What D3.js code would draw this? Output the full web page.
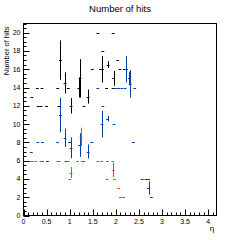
<!DOCTYPE html>
<html>
<head>
<meta charset="utf-8">
<script src="https://cdn.jsdelivr.net/npm/d3@7"></script>
<style>
  body { margin: 0; background: #fff; }
  text { font-family: "Liberation Sans", Arial, sans-serif; }
</style>
</head>
<body>
<svg id="chart" width="240" height="240"></svg>
<script>
// each point: [eta, mean hits, error]
var blackPts = [
  [0.18, 13, 0], [0.30, 14, 0], [0.40, 14, 0], [0.74, 14, 0], [0.97, 14, 0],
  [0.32, 12, 0], [0.38, 12, 0], [0.50, 12, 0], [0.77, 12, 0], [1.31, 12, 0],
  [0.80, 17, 2.15], [0.90, 14.5, 1.15], [1.03, 12, 0.85], [1.20, 14, 1.1],
  [1.225, 15, 2.1], [1.40, 13, 0.77], [1.49, 16, 0], [1.61, 20, 0], [1.94, 20, 0],
  [1.72, 18, 0], [1.71, 16, 1.45], [1.67, 16, 0], [1.83, 16.5, 0.37], [2.04, 17, 0],
  [1.95, 15, 0.8], [2.09, 16, 0], [2.18, 16, 0], [1.80, 14, 0], [1.94, 14, 0]
];
var bluePts = [
  [1.61, 14, 0], [2.00, 14, 0], [2.06, 14, 0], [2.13, 14, 0], [2.20, 14, 0], [2.41, 14, 0],
  [2.23, 16, 1.46], [2.29, 15, 0.73], [2.31, 14.4, 1.5],
  [0.80, 11, 1.9], [0.90, 8.5, 1.0], [1.03, 7.4, 1.14], [1.215, 7.7, 1.28], [1.40, 7, 0.77],
  [0.31, 8, 0], [0.41, 8, 0], [0.74, 8, 0], [1.00, 8, 0], [1.48, 8, 0], [2.38, 8, 0],
  [0.17, 7, 0],
  [0.04, 6, 0], [0.12, 6, 0], [0.41, 6, 0], [0.52, 6, 0], [0.75, 6, 0], [0.92, 6, 0], [1.30, 6, 0],
  [1.70, 10, 1.45], [1.72, 12, 0], [1.82, 10.6, 0.3], [1.96, 10, 0],
  [2.57, 4, 0], [2.65, 4, 0], [2.71, 4, 0], [2.71, 3, 0.73], [2.77, 2, 0]
];
var redPts = [
  [0.19, 6, 0], [0.27, 6, 0], [0.38, 6, 0], [0.77, 6, 0], [0.97, 6, 0],
  [1.17, 6, 0], [1.27, 6, 0], [1.61, 6, 0], [1.69, 6, 0], [1.82, 6, 0], [1.93, 6, 0],
  [1.03, 4.7, 0.6], [1.00, 4, 0], [1.245, 8.6, 1.0], [1.94, 5, 0.78],
  [1.81, 4, 0], [1.97, 4, 0], [2.06, 3, 0], [2.10, 2, 0], [2.17, 2, 0]
];
var series = [
  { pts: blackPts, color: '#000000' },
  { pts: bluePts, color: '#0040a0' },
  { pts: redPts, color: '#ff3c14' }
];
var xTicks = [0, 0.5, 1, 1.5, 2, 2.5, 3, 3.5, 4];
var yTicks = [0, 2, 4, 6, 8, 10, 12, 14, 16, 18, 20];
var binHalf = 0.03;

var svg = d3.select('#chart');
var frameL = 23.5, frameR = 216.5, frameT = 23.5, frameB = 215.5;

var x = d3.scaleLinear().domain([0, 4.18]).range([frameL, frameR]);
var y = d3.scaleLinear().domain([0, 21]).range([frameB, frameT]);

// title
svg.append('text').attr('x', 120).attr('y', 11.5).attr('text-anchor', 'middle')
  .attr('font-size', 9.5).text('Number of hits');

// data marks
series.forEach(function (s) {
  var g = svg.append('g').attr('stroke', s.color).attr('stroke-width', 1);
  s.pts.forEach(function (d) {
    g.append('line')
      .attr('x1', x(d[0] - binHalf)).attr('x2', x(d[0] + binHalf))
      .attr('y1', Math.round(y(d[1])) + 0.5).attr('y2', Math.round(y(d[1])) + 0.5);
    if (d[2] > 0) {
      g.append('line')
        .attr('x1', Math.round(x(d[0])) + 0.5).attr('x2', Math.round(x(d[0])) + 0.5)
        .attr('y1', y(d[1] - d[2])).attr('y2', y(d[1] + d[2]));
    }
  });
});

// frame
svg.append('rect').attr('x', frameL).attr('y', frameT)
  .attr('width', frameR - frameL).attr('height', frameB - frameT)
  .attr('fill', 'none').attr('stroke', '#000').attr('stroke-width', 1);

// ticks, ROOT style (inside)
var tg = svg.append('g').attr('stroke', '#000').attr('stroke-width', 1);
d3.range(0, 4.18, 0.1).forEach(function (v) {
  var major = Math.abs(v * 2 - Math.round(v * 2)) < 1e-6;
  var px = Math.round(x(v)) + 0.5;
  tg.append('line').attr('x1', px).attr('x2', px)
    .attr('y1', frameB).attr('y2', frameB - (major ? 6 : 3));
});
d3.range(0, 21.01, 0.5).forEach(function (v) {
  var major = Math.abs(v / 2 - Math.round(v / 2)) < 1e-6;
  var py = Math.round(y(v)) + 0.5;
  tg.append('line').attr('x1', frameL).attr('x2', frameL + (major ? 6 : 3))
    .attr('y1', py).attr('y2', py);
});

// tick labels
svg.append('g').selectAll('text').data(xTicks).enter().append('text')
  .attr('x', function (d) { return x(d); }).attr('y', 223.5)
  .attr('text-anchor', 'middle').attr('font-size', 7)
  .text(function (d) { return d; });
svg.append('g').selectAll('text').data(yTicks).enter().append('text')
  .attr('x', 20.5).attr('y', function (d) { return y(d) + 2.5; })
  .attr('text-anchor', 'end').attr('font-size', 7)
  .text(function (d) { return d; });

// axis titles
svg.append('text').attr('x', 212).attr('y', 231).attr('text-anchor', 'middle')
  .attr('font-size', 8).text('η');
svg.append('text').attr('transform', 'translate(9,26.5) rotate(-90)')
  .attr('text-anchor', 'end').attr('font-size', 7.5).text('Number of hits');
</script>
</body>
</html>
